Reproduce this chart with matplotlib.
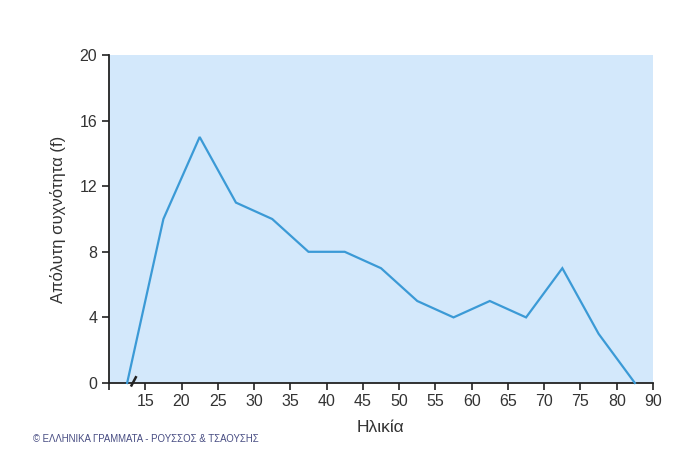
import matplotlib
matplotlib.use("Agg")
import matplotlib.pyplot as plt

# Data
class_midpoints = [12.5, 17.5, 22.5, 27.5, 32.5, 37.5, 42.5, 47.5, 52.5, 57.5, 62.5, 67.5, 72.5, 77.5, 82.5]
frequencies = [0, 10, 15, 11, 10, 8, 8, 7, 5, 4, 5, 4, 7, 3, 0]
x_tick_positions = [15, 20, 25, 30, 35, 40, 45, 50, 55, 60, 65, 70, 75, 80, 85]
x_tick_labels = ["15", "20", "25", "30", "35", "40", "45", "50", "55", "60", "65", "70", "75", "80", "90"]
y_ticks = [0, 4, 8, 12, 16, 20]

plt.rcParams['font.family'] = ['Liberation Sans', 'DejaVu Sans']

fig = plt.figure(figsize=(6.82, 4.54), dpi=100)
ax = fig.add_axes([109/682, 1-383/454, (653-109)/682, (383-55)/454])
ax.set_facecolor('#d3e8fb')
ax.plot(class_midpoints, frequencies, color='#3b9ad6', lw=1.6, solid_joinstyle='miter', clip_on=False, zorder=3)

ax.set_xlim(10, 85)
ax.set_ylim(0, 20)
ax.set_xticks([10] + x_tick_positions)
ax.set_xticklabels([""] + x_tick_labels)
ax.set_yticks(y_ticks)

for s in ['top', 'right']:
    ax.spines[s].set_visible(False)
for s in ['left', 'bottom']:
    ax.spines[s].set_linewidth(1.3)
    ax.spines[s].set_color('#222222')
ax.tick_params(direction='out', length=5, width=1.2, colors='#222222', labelsize=11.5, labelcolor='#333333')
ax.tick_params(axis='x', pad=3)

# axis break mark
ax.plot([13.1, 13.7], [-0.15, 0.35], color='#222222', lw=1.8, clip_on=False, zorder=4)

ax.set_xlabel('Ηλικία', fontsize=12.5, color='#333333', labelpad=8)
ax.set_ylabel('Απόλυτη συχνότητα (f)', fontsize=12, color='#333333', labelpad=10)

fig.text(33/682, 1-439/454, '© ΕΛΛΗΝΙΚΑ ΓΡΑΜΜΑΤΑ - ΡΟΥΣΣΟΣ & ΤΣΑΟΥΣΗΣ', fontsize=6.9,
         color='#474c82', va='center', ha='left')

fig.savefig('out.png', dpi=100)
